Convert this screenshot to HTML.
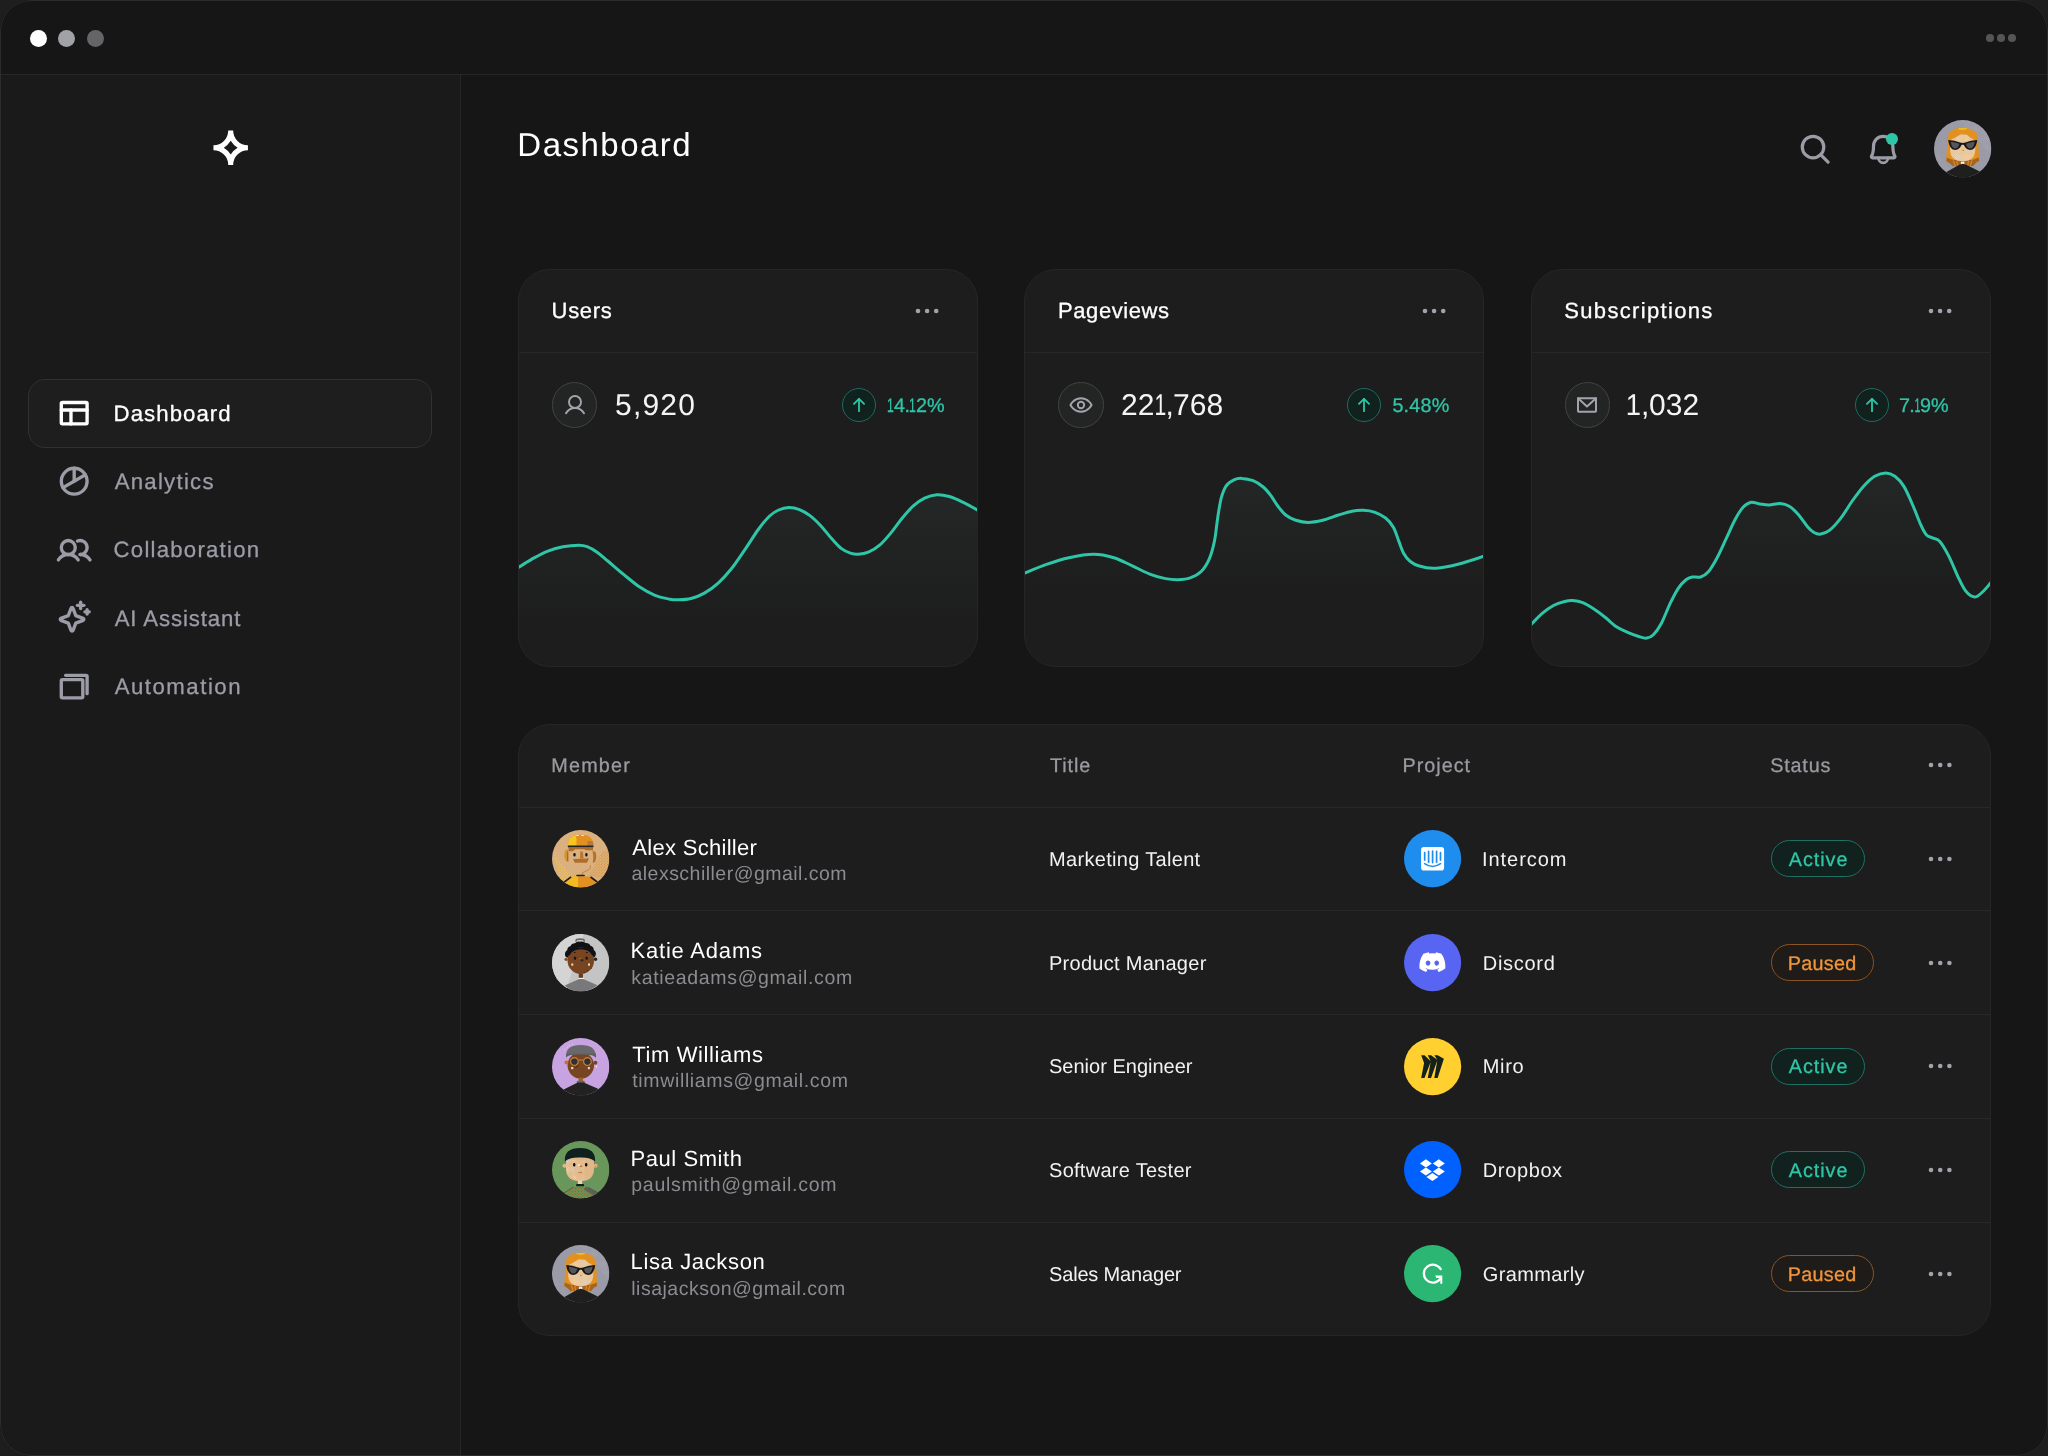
<!DOCTYPE html>
<html lang="en">
<head>
<meta charset="utf-8">
<title>Dashboard</title>
<style>
*{box-sizing:border-box;margin:0;padding:0}
html,body{width:2048px;height:1456px;overflow:hidden;background:#1e1e1e}
body{font-family:"Liberation Sans",sans-serif;color:#fff;position:relative;text-rendering:geometricPrecision}
.abs{position:absolute}
#win{position:absolute;left:0;top:0;width:2048px;height:1456px;border-radius:31px;background:#161616;overflow:hidden}
#win:after{content:'';position:absolute;left:0;top:0;right:0;bottom:0;border-radius:31px;border:1.500px solid #2b2d2c;pointer-events:none}
#tbar{position:absolute;left:0;top:0;width:2048px;height:75px;background:#161616;border-bottom:1px solid #262626}
#side{position:absolute;left:0;top:75px;width:460.500px;height:1381px;background:#1a1a1a;border-right:1px solid #262626}
.dot{position:absolute;border-radius:50%}
.t{position:absolute;white-space:nowrap;line-height:1;transform:translateZ(0)}
.o{display:inline-block}
.med{-webkit-text-stroke:0.35px currentColor}
.nav{color:#9c9ca6;font-size:23px}
.card{position:absolute;background:#1d1d1d;border:1px solid #262626;border-radius:32px;overflow:hidden}
.hr{position:absolute;height:1px;background:#262726}
.ctitle{font-size:23px;color:#fff}
.num{font-size:31px;color:#f2f2f2}
.pct{font-size:20px;color:#2fc6a8}
.th{font-size:20px;color:#9a9aa0}
.nm{font-size:23px;color:#fff}
.em{font-size:20px;color:#8b8b91}
.td{font-size:20px;color:#f0f0f0}
.badge{position:absolute;height:37px;border-radius:19px;border:1.500px solid}
.act{background:#10211e;border-color:#207063;color:#2fc6a8}
.pau{background:#1e1b18;border-color:#8a5424;color:#f0953a}
svg{position:absolute;overflow:visible}
</style>
</head>
<body>
<div id="win">
<div id="tbar">
  <div class="dot" style="left:29.600px;top:29.600px;width:17.400px;height:17.400px;background:#fff"></div>
  <div class="dot" style="left:58.100px;top:29.600px;width:17.400px;height:17.400px;background:#a1a1a8"></div>
  <div class="dot" style="left:86.600px;top:29.600px;width:17.400px;height:17.400px;background:#656567"></div>
  <div class="dot" style="left:1986.400px;top:34.400px;width:7.600px;height:7.600px;background:#555"></div>
  <div class="dot" style="left:1997.200px;top:34.400px;width:7.600px;height:7.600px;background:#555"></div>
  <div class="dot" style="left:2008px;top:34.400px;width:7.600px;height:7.600px;background:#555"></div>
</div>
<svg width="0" height="0" style="left:0;top:0">
<defs>
<pattern id="dY" width="2.2" height="2.2" patternUnits="userSpaceOnUse" patternTransform="rotate(45)"><rect width="1" height="1" fill="#ffd02a"/></pattern>
<pattern id="dO" width="2.2" height="2.2" patternUnits="userSpaceOnUse" patternTransform="rotate(45)"><rect width="1" height="1" fill="#e08a1c"/></pattern>
<pattern id="dW" width="1.6" height="1.6" patternUnits="userSpaceOnUse" patternTransform="rotate(45)"><rect width=".8" height=".8" fill="#e6e6e6"/></pattern>
<pattern id="dB" width="2.1" height="2.1" patternUnits="userSpaceOnUse" patternTransform="rotate(45)"><rect width="1" height="1" fill="#a4561a"/></pattern>
<pattern id="dL" width="1.6" height="1.6" patternUnits="userSpaceOnUse" patternTransform="rotate(45)"><rect width=".8" height=".8" fill="#b4b4bf"/></pattern>
<!-- Alex -->
<g id="avAlex">
  <rect width="58" height="58" fill="#d9b07e"/>
  <path d="M2,24 L20,47 L9,54 Z" fill="url(#dY)"/><path d="M37,46 L52,20 L58,22 L57,50 Z" fill="url(#dO)"/>
  <path d="M16.300,19.200 l-3,1.500 q-1.800,5 .600,10.500 l2.400,1.200z" fill="#d98f2e"/><path d="M15.200,22 l1.300,0 v10 l-1.300,-.600z" fill="#a8682a"/>
  <path d="M41,21 l3,1.200 q1.800,4.500 -.300,9.800 l-2.500,1.400 q1,-6 -.200,-12.400z" fill="#b5722d"/>
  <path d="M16.200,16 Q16,7.500 23,5.600 Q29,4.200 35.500,5.600 Q42,8 42,16 Z" fill="#e2901f"/>
  <path d="M16.200,16 Q16,7.500 23,5.600 L24.500,5.300 L24,16 Z" fill="#f8c71f"/>
  <path d="M24,7 l1.600,3 l-1,2 l1,2 l-1.600,2z" fill="#f8c71f" opacity=".6"/>
  <path d="M36,11.200 h4.800 q1.200,2.400 1.200,4.800 h-6.500z" fill="#b87a38"/>
  <rect x="24.500" y="5.200" width="2.600" height=".9" fill="#f3efe6"/><rect x="29.600" y="5.200" width="2.600" height=".9" fill="#f3efe6"/>
  <rect x="15.900" y="15.600" width="26.100" height="2" rx=".9" fill="#22262b"/>
  <path d="M16.800,17.600 h24.600 v2.800 l-7,0 l-2,-1 l-9,0 l-2.500,2.200 l-4.100,0z" fill="#ad6c2c"/>
  <rect x="21.600" y="23.200" width="2.300" height="3.700" rx="1.100" fill="#13131a"/><rect x="33.600" y="23.200" width="2.300" height="3.700" rx="1.100" fill="#13131a"/>
  <path d="M28.600,21.600 l2.600,.300 l.700,6.800 l-3.600,0 z" fill="#b9762f"/>
  <path d="M21.300,29.200 l14,-.300 l1.400,-1.200 l.200,2 l-1.600,3.500 h-12.300z" fill="#ae6e2d"/>
  <path d="M38.900,36 q.800,3 -2.500,4.500 l-5.800,2.800 v3" fill="none" stroke="#b5722d" stroke-width=".700"/>
  <rect x="24.500" y="45.200" width="8.700" height="1.800" rx=".8" fill="#1a2327"/>
  <path d="M20.200,47.100 h18.300 l7.500,6 q-7,5.400 -17,5.400 q-8.500,0 -15,-4.700 z" fill="#e2901f"/>
  <path d="M20.200,47.100 h6 l.300,11.200 q-6.500,-.600 -12.500,-4.500z" fill="#f6c321" opacity=".8"/>
  <path d="M12.300,52.600 l7,-5.300 M45.800,52.500 l-6.800,-5" stroke="#1d1d1d" stroke-width="1.700" fill="none"/>
</g>
<!-- Katie -->
<g id="avKatie">
  <rect width="58" height="58" fill="#c4c4c5"/>
  <path d="M0,0 h32 L14,58 H0z" fill="#d4d4d5"/>
  <ellipse cx="28.400" cy="6.700" rx="4.900" ry="2.300" fill="#66666a"/><ellipse cx="28.400" cy="7.500" rx="3.700" ry="1.400" fill="#cfcfcf"/>
  <path d="M13.200,21.500 q-.600,-3.500 2.200,-5 q-.200,-3.300 3.200,-4.200 q1.200,-3 4.600,-3 q2,-2 5.200,-1.500 q3.400,-.800 5.600,1.400 q3.600,-.300 4.800,2.800 q3.400,.700 3.400,4.200 q2.800,1.800 2,5.200 q-.800,2.600 -3.200,2.600 l-24.500,0 q-3,0 -3.300,-2.500z" fill="#101215"/>
  <circle cx="29.100" cy="27" r="13.400" fill="#774521"/>
  <path d="M15.600,22.500 q1.500,-8.500 13.500,-8.800 q12,.300 13.600,9 l-2.400,-1.500 q-2.700,-5.700 -11.200,-5.800 q-8,.100 -11,5.500z" fill="#101215"/>
  <circle cx="14.300" cy="25.600" r="1.700" fill="#8a4e22"/><circle cx="44" cy="25.500" r="1.700" fill="#22262b"/>
  <rect x="22.100" y="18.200" width="1.600" height="1" fill="#14181d"/><rect x="34.300" y="18.200" width="1.800" height="1" fill="#14181d"/>
  <rect x="22.200" y="23" width="2.100" height="3" rx=".5" fill="#14181d"/><rect x="34" y="23" width="2.100" height="3" rx=".5" fill="#14181d"/>
  <path d="M27.500,25.600 l1.200,-1.400 l1,1.200" stroke="#c07a2e" stroke-width=".700" fill="none"/>
  <rect x="28.800" y="25.600" width="3" height="2" rx=".9" fill="#1f2a30"/>
  <rect x="19.500" y="29.800" width="2" height="2.200" fill="#f1d9b8"/><rect x="36.400" y="29.800" width="2" height="2.200" fill="#f1d9b8"/>
  <circle cx="39.600" cy="34.600" r=".500" fill="#101215"/><circle cx="35.700" cy="36.600" r=".500" fill="#101215"/><circle cx="32.600" cy="38.600" r=".500" fill="#101215"/>
  <rect x="27" y="40" width="4.300" height="5" fill="#6a3d1c"/>
  <rect x="26.600" y="44.300" width="5.500" height="1.300" fill="#f2f2f2"/>
  <path d="M27.500,45.600 h4 L46,51.800 Q38,58.200 29,58.200 Q19,58.200 12.800,52 z" fill="#79797c"/>
</g>
<!-- Tim -->
<g id="avTim">
  <rect width="58" height="58" fill="#c8a3e1"/>
  <circle cx="29.100" cy="27.600" r="13.400" fill="#774521"/>
  <circle cx="14.600" cy="24.800" r="2" fill="#b9762f"/><circle cx="43.900" cy="25" r="2" fill="#774521"/><rect x="44.200" y="27.500" width="1.400" height="2.300" fill="#f0dcc0"/>
  <path d="M14.200,19.800 Q13.300,10.500 21,8 Q29,6 37,8 Q45.300,11 44.400,20 Q42.500,17.600 38.500,17.300 Q29,15.300 19.500,17.300 Q16,17.600 14.200,19.800z" fill="#69696b"/>
  <path d="M14.200,19.800 q2,-3 6,-3.200 l18,0 q4.500,.500 6.200,3.400 q.300,-2 -.200,-4 l-29.500,0 q-.700,1.800 -.500,3.800z" fill="#5c5c5f"/>
  <circle cx="21" cy="9.900" r=".550" fill="#4d63f0"/><circle cx="24" cy="11.900" r=".550" fill="#4d63f0"/><circle cx="28" cy="9.900" r=".550" fill="#4d63f0"/><circle cx="30" cy="9.900" r=".550" fill="#4d63f0"/><circle cx="33" cy="9.900" r=".550" fill="#4d63f0"/>
  <circle cx="12.700" cy="11.900" r=".500" fill="#eee"/><circle cx="15.700" cy="9.900" r=".500" fill="#eee"/><circle cx="17.700" cy="7.900" r=".500" fill="#eee"/><circle cx="20.700" cy="6.900" r=".500" fill="#eee"/>
  <path d="M21.0,20.1 L24.2,20.1 L26.3,22.2 L26.3,25.4 L24.2,27.5 L21.0,27.5 L18.9,25.4 L18.9,22.2z" fill="#2f3034" stroke="#cf8535" stroke-width="1.100"/>
  <path d="M34.2,20.1 L37.4,20.1 L39.5,22.2 L39.5,25.4 L37.4,27.5 L34.2,27.5 L32.1,25.4 L32.1,22.2z" fill="#2f3034" stroke="#cf8535" stroke-width="1.100"/>
  <path d="M26.800,22.300 h4.800" stroke="#cf8535" stroke-width="1"/>
  <path d="M26.500,27.500 l-2.600,2.600" stroke="#14181d" stroke-width=".800"/>
  <rect x="19.300" y="29.300" width="2.200" height="2.200" fill="#ecd6b6"/><rect x="36.200" y="29.300" width="2.200" height="2.200" fill="#d8d0c6"/>
  <rect x="26.900" y="40" width="4.400" height="4" fill="#a45f22"/>
  <rect x="25" y="43.300" width="8.200" height="2.600" rx="1" fill="#67676a"/>
  <path d="M26,45 h6 L46.500,51.300 L46,59 H12 L11.800,52 z" fill="#222223"/>
</g>
<!-- Paul -->
<g id="avPaul">
  <rect width="58" height="58" fill="#69975b"/>
  <circle cx="12.700" cy="25" r="2.100" fill="#e2b787"/><circle cx="44" cy="25" r="2.100" fill="#e2b787"/><path d="M43.500,24 q1.500,1 .500,2.600" stroke="#c0752c" stroke-width=".700" fill="none"/>
  <path d="M14.200,17 h28.200 v11.500 q0,12 -14,12 q-14.200,0 -14.200,-12z" fill="#e2b787"/>
  <path d="M14.200,19 h9 q-3,10 2,20 q-11,-2 -11,-11z" fill="url(#dW)"/>
  <path d="M23,19.500 h10 v20 h-10z" fill="url(#dW)" opacity=".45"/>
  <path d="M13,20.600 Q12,7 28.500,7 Q44.200,7 43.600,20.600 Q38,16.400 28.500,16.400 Q18,16.400 13,20.600z" fill="#0f211f"/>
  <rect x="21.300" y="22.300" width="2.300" height="3.500" rx="1.100" fill="#0c0c10"/><rect x="33.400" y="22.300" width="2.300" height="3.500" rx="1.100" fill="#0c0c10"/>
  <circle cx="27.200" cy="24.200" r="1.100" fill="#e3e3e6"/>
  <path d="M29.300,24.300 l1.700,2 h-3.200z" fill="#c0752c"/><rect x="26.600" y="31.400" width="3.800" height=".9" fill="#c0752c"/>
  <rect x="26.200" y="39.700" width="4.300" height="4.200" fill="#ecd2b0"/>
  <rect x="24.400" y="43.400" width="8" height="2.700" rx=".8" fill="#0f211f"/>
  <path d="M23,46.100 h11 L46,52 Q38,58.300 29,58.300 Q20,58.300 12.500,52.500z" fill="#69975b"/>
  <path d="M23,46.100 h11 L46,52 Q38,58.300 29,58.300 Q20,58.300 12.500,52.500z" fill="url(#dB)"/>
  <path d="M34,46.100 L46,52 l-4,3.200 l-9.500,-6z" fill="#5a5a5e" opacity=".85"/>
  <path d="M12,52.800 l9.500,-6.200 M46.500,52.300 l-10,-5.500" stroke="#3a3f3a" stroke-width=".600" fill="none"/>
</g>
<!-- Lisa -->
<g id="avLisa">
  <rect width="58" height="58" fill="#9b9ba7"/>
  <path d="M22,0 h36 v34 z" fill="url(#dL)" opacity=".55"/><path d="M0,28 L22,58 H0z" fill="url(#dL)" opacity=".35"/>
  <path d="M13.400,20 Q13.400,12 20,9.300 Q29,6.600 37.500,9.300 Q44.600,12 44.600,20 L45.600,41 L42.500,43 L39.500,46.500 H19 L15.500,43.500 L12.400,41.500 z" fill="#e2901f"/>
  <path d="M24.500,8.300 h9 l-1,1.300 h-3 l-.600,1 l-.800,-1 h-3z" fill="#f8c71f"/>
  <path d="M13,38 l3.500,1.500 l3,1 l19,0 l3,-1.200 l3.600,-1.300 l.500,3.500 l-3,1.500 l-3,3.500 h-20.600 l-3.500,-3 l-3.100,-2z" fill="#a5641f"/>
  <path d="M19.500,41 l2,5.500 M23,41 l1,5.500 M35,41 l-1,5.500 M38.500,41 l-2,5.500" stroke="#d98a2b" stroke-width="1.200"/>
  <path d="M16.300,24 Q16,19.500 20.200,18.500 L27.100,14.500 L33.400,15 L36.800,18 Q41.700,19.500 41.700,24 V30 q0,11.500 -12.700,11.500 q-12.700,0 -12.700,-11.500z" fill="#e9c495"/>
  <path d="M22,18 l5.500,-3 l5.500,.500 l3,2.500 l-2,3 h-10z" fill="url(#dW)" opacity=".6"/>
  <path d="M17,30 h24 v1 q-1,10.500 -12,10.500 q-11,0 -12,-10.500z" fill="url(#dW)" opacity=".65"/>
  <path d="M14.400,20.100 Q21,20.300 26.300,22.800 Q29,23.800 31.700,22.800 Q37,20.300 43.700,20.100 Q43,27 39,29.800 Q34.300,31.400 31.700,27.800 L30,24.900 H28 L26.300,27.800 Q23.700,31.400 19,29.800 Q15,27 14.400,20.100z" fill="#15171a"/>
  <path d="M16.900,21.900 Q21.500,22.200 25.600,24 Q24.800,29.200 20.400,28.800 Q17.600,27.300 16.900,21.900z M41.100,21.900 Q36.500,22.200 32.400,24 Q33.200,29.200 37.600,28.800 Q40.400,27.300 41.100,21.900z" fill="#55565a"/>
  <rect x="28.400" y="30.200" width="2" height="1" fill="#d98a2b"/>
  <rect x="27.200" y="42" width="3.500" height="3.200" fill="#f0f0f0"/>
  <path d="M25.500,45.300 l3.500,-1 l3.500,1 L46.300,52 L46,59 H12 L12.600,52.500 z" fill="#1f1f20"/>
</g>
</defs>
</svg>
<div id="side"></div>
<svg style="left:210.900px;top:127.700px" width="39.400" height="39.400" viewBox="-20 -20 40 40"><path fill="#fff" fill-rule="evenodd" d="M-2.500,-17.500 H2.500 A15,15 0 0 0 17.500,-2.500 V2.500 A15,15 0 0 0 2.500,17.500 H-2.500 A15,15 0 0 0 -17.500,2.500 V-2.500 A15,15 0 0 0 -2.500,-17.500 Z M0,-7 A20.400,20.400 0 0 1 -7,0 A20.400,20.400 0 0 1 0,7 A20.400,20.400 0 0 1 7,0 A20.400,20.400 0 0 1 0,-7 Z"/></svg>
<div class="abs" style="left:28.400px;top:379.300px;width:403.200px;height:68.400px;border-radius:17px;background:#1e1e1e;border:1.500px solid #313131"></div>
<svg style="left:56.7px;top:396.1px" width="34.4" height="34.4" viewBox="0 0 256 256" fill="none" stroke="#fff" stroke-width="25" stroke-linecap="round" stroke-linejoin="round"><rect x="32" y="48" width="192" height="160" rx="8"/><line x1="104" y1="104" x2="104" y2="208"/><line x1="32" y1="104" x2="224" y2="104"/></svg>
<svg style="left:56.7px;top:464.4px" width="34.4" height="34.4" viewBox="0 0 256 256" fill="none" stroke="#9c9ca6" stroke-width="25" stroke-linecap="round" stroke-linejoin="round"><circle cx="128" cy="128" r="96"/><line x1="128" y1="128" x2="128" y2="32"/><line x1="211.140" y1="80" x2="44.860" y2="176"/></svg>
<svg style="left:56.7px;top:532.7px" width="34.4" height="34.4" viewBox="0 0 256 256" fill="none" stroke="#9c9ca6" stroke-width="25" stroke-linecap="round" stroke-linejoin="round"><circle cx="84" cy="108" r="52"/><path d="M10.230,200a88,88,0,0,1,147.540,0"/><path d="M172,160a87.930,87.930,0,0,1,73.770,40"/><path d="M152.690,59.700A52,52,0,1,1,172,160"/></svg>
<svg style="left:56.7px;top:600.1px" width="34.4" height="34.4" viewBox="0 0 256 256" fill="none" stroke="#9c9ca6" stroke-width="25" stroke-linecap="round" stroke-linejoin="round"><path d="M84.270,171.730l-55.090-20.300a7.920,7.920,0,0,1,0-14.860l55.090-20.300,20.300-55.090a7.920,7.920,0,0,1,14.860,0l20.300,55.090,55.090,20.300a7.920,7.920,0,0,1,0,14.860l-55.090,20.300-20.300,55.090a7.920,7.920,0,0,1-14.860,0Z"/><line x1="176" y1="16" x2="176" y2="64"/><line x1="200" y1="40" x2="152" y2="40"/><line x1="224" y1="72" x2="224" y2="104"/><line x1="240" y1="88" x2="208" y2="88"/></svg>
<svg style="left:56.7px;top:670.3px" width="34.4" height="34.4" viewBox="0 0 256 256" fill="none" stroke="#9c9ca6" stroke-width="25" stroke-linecap="round" stroke-linejoin="round"><rect x="32" y="72" width="160" height="136" rx="8"/><path d="M64,40H216a8,8,0,0,1,8,8V176"/></svg>
<div class="t" style="left:113.6px;top:403.0px;font-size:22.2px;color:#fff;letter-spacing:1.062px;-webkit-text-stroke:0.3px #fff">Dashboard</div>
<div class="t" style="left:114.65px;top:471.0px;font-size:22.2px;color:#9c9ca6;letter-spacing:1.265px;-webkit-text-stroke:0.3px #9c9ca6">Analytics</div>
<div class="t" style="left:113.6px;top:539.0px;font-size:22.2px;color:#9c9ca6;letter-spacing:1.225px;-webkit-text-stroke:0.3px #9c9ca6">Collaboration</div>
<div class="t" style="left:114.65px;top:608.0px;font-size:22.2px;color:#9c9ca6;letter-spacing:0.895px;-webkit-text-stroke:0.3px #9c9ca6">AI Assistant</div>
<div class="t" style="left:114.65px;top:676.0px;font-size:22.2px;color:#9c9ca6;letter-spacing:1.518px;-webkit-text-stroke:0.3px #9c9ca6">Automation</div>
<div class="t" style="left:517.3px;top:128.0px;font-size:33.0px;color:#fff;letter-spacing:1.497px">Dashboard</div>
<svg style="left:1797.5px;top:132.3px" width="34.4" height="34.4" viewBox="0 0 256 256" fill="none" stroke="#9c9ca6" stroke-width="24" stroke-linecap="round" stroke-linejoin="round"><circle cx="112" cy="112" r="80"/><line x1="168.570" y1="168.570" x2="224" y2="224"/></svg>
<svg style="left:1866.1px;top:132.1px" width="34.4" height="34.4" viewBox="0 0 256 256" fill="none" stroke="#9c9ca6" stroke-width="24" stroke-linecap="round" stroke-linejoin="round"><path d="M92,192a36,38,0,0,0,72,0" stroke-width="20"/><path d="M56,104a72,72,0,0,1,144,0c0,35.820,8.300,64.600,14.900,76A8,8,0,0,1,208,192H48a8,8,0,0,1-6.880-12C47.710,168.600,56,139.810,56,104Z"/></svg>
<div class="dot" style="left:1885.500px;top:133px;width:12px;height:12px;background:#2fc6a8"></div>
<svg style="left:1933.900px;top:120px" width="57.400" height="57.400" viewBox="0 0 58 58"><defs><clipPath id="cpH"><circle cx="29" cy="29" r="29"/></clipPath></defs><g clip-path="url(#cpH)"><use href="#avLisa"/></g></svg>
<div class="card" style="left:518px;top:269px;width:460px;height:397.500px">
<svg style="left:-519px;top:-270px" width="2048" height="700" viewBox="0 0 2048 700"><defs><linearGradient id="cg0" gradientUnits="userSpaceOnUse" x1="0" y1="495" x2="0" y2="620"><stop offset="0" stop-color="#9fe5d6" stop-opacity=".05"/><stop offset=".5" stop-color="#9fe5d6" stop-opacity=".025"/><stop offset="1" stop-color="#9fe5d6" stop-opacity="0"/></linearGradient></defs><path d="M514.0,570.2C514.7,569.8 515.1,569.5 518.0,567.7C520.9,565.9 526.6,562.1 531.5,559.4C536.4,556.7 542.0,553.4 547.2,551.3C552.4,549.2 557.7,547.8 562.9,546.8C568.1,545.8 574.5,545.2 578.6,545.2C582.7,545.2 584.1,545.4 587.2,546.6C590.3,547.8 593.7,549.8 597.1,552.2C600.5,554.6 603.4,557.3 607.8,561.0C612.2,564.7 618.4,570.1 623.6,574.4C628.9,578.7 634.1,583.3 639.3,586.8C644.5,590.3 650.1,593.3 655.0,595.3C659.9,597.3 664.6,598.1 668.5,598.9C672.4,599.6 674.9,599.9 678.6,599.8C682.4,599.7 686.7,599.6 691.0,598.5C695.3,597.4 699.9,595.6 704.4,593.1C708.9,590.6 713.4,587.5 717.9,583.4C722.4,579.3 726.9,574.4 731.4,568.8C735.9,563.2 740.4,556.2 744.9,549.7C749.4,543.2 754.2,535.1 758.3,529.5C762.4,523.9 766.2,519.2 769.6,516.0C773.0,512.8 775.4,511.4 778.6,510.0C781.8,508.6 785.3,507.6 788.7,507.5C792.1,507.4 795.2,507.9 798.8,509.3C802.3,510.7 806.3,512.8 810.0,515.6C813.7,518.4 817.5,522.2 821.2,526.2C825.0,530.2 829.1,535.9 832.5,539.6C835.9,543.3 838.5,546.4 841.5,548.6C844.5,550.9 847.6,552.2 850.4,553.1C853.2,554.0 855.3,554.4 858.3,554.2C861.3,554.1 864.8,553.7 868.4,552.2C872.0,550.7 875.9,548.4 879.6,545.2C883.4,542.0 887.1,537.4 890.9,532.9C894.6,528.4 898.4,522.8 902.1,518.3C905.8,513.8 909.5,509.3 913.3,505.9C917.0,502.5 920.7,500.0 924.6,498.1C928.5,496.2 932.8,495.0 936.9,494.7C941.0,494.4 945.0,495.3 949.3,496.5C953.6,497.7 957.9,499.8 962.7,502.1C967.5,504.4 974.8,508.6 978.0,510.4C981.2,512.1 981.3,512.2 982.0,512.6 V680 H508 Z" fill="url(#cg0)"/><path d="M514.0,570.2C514.7,569.8 515.1,569.5 518.0,567.7C520.9,565.9 526.6,562.1 531.5,559.4C536.4,556.7 542.0,553.4 547.2,551.3C552.4,549.2 557.7,547.8 562.9,546.8C568.1,545.8 574.5,545.2 578.6,545.2C582.7,545.2 584.1,545.4 587.2,546.6C590.3,547.8 593.7,549.8 597.1,552.2C600.5,554.6 603.4,557.3 607.8,561.0C612.2,564.7 618.4,570.1 623.6,574.4C628.9,578.7 634.1,583.3 639.3,586.8C644.5,590.3 650.1,593.3 655.0,595.3C659.9,597.3 664.6,598.1 668.5,598.9C672.4,599.6 674.9,599.9 678.6,599.8C682.4,599.7 686.7,599.6 691.0,598.5C695.3,597.4 699.9,595.6 704.4,593.1C708.9,590.6 713.4,587.5 717.9,583.4C722.4,579.3 726.9,574.4 731.4,568.8C735.9,563.2 740.4,556.2 744.9,549.7C749.4,543.2 754.2,535.1 758.3,529.5C762.4,523.9 766.2,519.2 769.6,516.0C773.0,512.8 775.4,511.4 778.6,510.0C781.8,508.6 785.3,507.6 788.7,507.5C792.1,507.4 795.2,507.9 798.8,509.3C802.3,510.7 806.3,512.8 810.0,515.6C813.7,518.4 817.5,522.2 821.2,526.2C825.0,530.2 829.1,535.9 832.5,539.6C835.9,543.3 838.5,546.4 841.5,548.6C844.5,550.9 847.6,552.2 850.4,553.1C853.2,554.0 855.3,554.4 858.3,554.2C861.3,554.1 864.8,553.7 868.4,552.2C872.0,550.7 875.9,548.4 879.6,545.2C883.4,542.0 887.1,537.4 890.9,532.9C894.6,528.4 898.4,522.8 902.1,518.3C905.8,513.8 909.5,509.3 913.3,505.9C917.0,502.5 920.7,500.0 924.6,498.1C928.5,496.2 932.8,495.0 936.9,494.7C941.0,494.4 945.0,495.3 949.3,496.5C953.6,497.7 957.9,499.8 962.7,502.1C967.5,504.4 974.8,508.6 978.0,510.4C981.2,512.1 981.3,512.2 982.0,512.6" fill="none" stroke="#2fc6a8" stroke-width="3" stroke-linecap="round" stroke-linejoin="round"/></svg>
<div class="hr" style="left:0;top:82px;width:460px"></div>
</div>
<svg style="left:914.1px;top:307.3px" width="26.2" height="8" fill="#a3a3ab"><circle cx="4" cy="4" r="2.3"/><circle cx="13.1" cy="4" r="2.3"/><circle cx="22.2" cy="4" r="2.3"/></svg>
<div class="dot" style="left:551.9px;top:382.300px;width:45.400px;height:45.400px;background:#232524;border:1.500px solid #424242"></div>
<svg style="left:562.6px;top:393px" width="24" height="24" viewBox="0 0 256 256" fill="none" stroke="#a3a3ab" stroke-width="21" stroke-linecap="round" stroke-linejoin="round"><circle cx="128" cy="96" r="64"/><path d="M32,216c19.370-33.470,54.550-56,96-56s76.630,22.530,96,56"/></svg>
<div class="dot" style="left:842.0px;top:388px;width:34px;height:34px;background:#10211e;border:1.500px solid #1f6a5d"></div>
<svg style="left:850px;top:396.2px" width="18" height="18" viewBox="0 0 256 256" fill="none" stroke="#2fc6a8" stroke-width="26" stroke-linecap="round" stroke-linejoin="round"><line x1="128" y1="216" x2="128" y2="40"/><polyline points="56 112 128 40 200 112"/></svg>
<div class="card" style="left:1024px;top:269px;width:460px;height:397.500px">
<svg style="left:-1025px;top:-270px" width="2048" height="700" viewBox="0 0 2048 700"><defs><linearGradient id="cg1" gradientUnits="userSpaceOnUse" x1="0" y1="478" x2="0" y2="590"><stop offset="0" stop-color="#9fe5d6" stop-opacity=".05"/><stop offset=".5" stop-color="#9fe5d6" stop-opacity=".025"/><stop offset="1" stop-color="#9fe5d6" stop-opacity="0"/></linearGradient></defs><path d="M1020.0,575.0C1020.7,574.7 1019.6,575.2 1024.0,573.4C1028.4,571.6 1039.0,567.0 1046.5,564.4C1054.0,561.8 1061.1,559.4 1068.9,557.7C1076.8,556.0 1086.1,554.3 1093.6,554.3C1101.1,554.3 1107.4,555.8 1113.8,557.7C1120.2,559.6 1125.8,562.9 1131.8,565.6C1137.8,568.3 1144.2,571.9 1149.8,574.1C1155.4,576.3 1160.8,577.7 1165.5,578.6C1170.2,579.5 1173.8,579.8 1177.9,579.7C1182.0,579.6 1186.3,579.3 1190.2,577.9C1194.1,576.5 1198.2,574.4 1201.4,571.2C1204.6,568.0 1207.1,563.8 1209.3,558.8C1211.5,553.8 1213.1,547.6 1214.5,540.9C1215.9,534.2 1216.5,525.5 1217.6,518.4C1218.7,511.3 1219.8,503.6 1221.2,498.2C1222.6,492.8 1224.1,488.9 1226.2,485.8C1228.3,482.7 1231.4,481.0 1234.0,479.8C1236.6,478.6 1238.7,478.2 1241.9,478.4C1245.1,478.5 1249.5,479.3 1253.1,480.7C1256.6,482.1 1260.2,484.5 1263.2,487.0C1266.2,489.5 1268.7,492.7 1271.1,495.9C1273.5,499.1 1275.4,502.8 1277.8,506.0C1280.2,509.2 1282.7,512.6 1285.7,515.0C1288.7,517.4 1292.1,519.0 1295.8,520.2C1299.5,521.4 1303.6,522.4 1308.1,522.4C1312.6,522.4 1317.6,521.4 1322.7,520.2C1327.8,519.0 1333.6,516.5 1338.5,515.0C1343.4,513.5 1347.8,512.0 1351.9,511.2C1356.0,510.4 1359.5,510.1 1363.2,510.3C1367.0,510.5 1370.7,510.8 1374.4,512.1C1378.1,513.4 1382.4,515.5 1385.6,518.0C1388.8,520.5 1391.3,523.6 1393.5,527.4C1395.7,531.2 1397.0,536.6 1398.7,540.9C1400.4,545.2 1401.7,549.8 1403.6,553.2C1405.5,556.6 1407.7,559.4 1410.3,561.5C1412.9,563.6 1415.5,564.9 1419.3,566.0C1423.0,567.1 1427.5,568.3 1432.8,568.3C1438.0,568.3 1444.8,567.2 1450.8,566.0C1456.8,564.8 1463.2,562.8 1468.7,561.1C1474.2,559.5 1480.8,557.2 1484.0,556.1C1487.2,555.0 1487.3,555.0 1488.0,554.8 V680 H1014 Z" fill="url(#cg1)"/><path d="M1020.0,575.0C1020.7,574.7 1019.6,575.2 1024.0,573.4C1028.4,571.6 1039.0,567.0 1046.5,564.4C1054.0,561.8 1061.1,559.4 1068.9,557.7C1076.8,556.0 1086.1,554.3 1093.6,554.3C1101.1,554.3 1107.4,555.8 1113.8,557.7C1120.2,559.6 1125.8,562.9 1131.8,565.6C1137.8,568.3 1144.2,571.9 1149.8,574.1C1155.4,576.3 1160.8,577.7 1165.5,578.6C1170.2,579.5 1173.8,579.8 1177.9,579.7C1182.0,579.6 1186.3,579.3 1190.2,577.9C1194.1,576.5 1198.2,574.4 1201.4,571.2C1204.6,568.0 1207.1,563.8 1209.3,558.8C1211.5,553.8 1213.1,547.6 1214.5,540.9C1215.9,534.2 1216.5,525.5 1217.6,518.4C1218.7,511.3 1219.8,503.6 1221.2,498.2C1222.6,492.8 1224.1,488.9 1226.2,485.8C1228.3,482.7 1231.4,481.0 1234.0,479.8C1236.6,478.6 1238.7,478.2 1241.9,478.4C1245.1,478.5 1249.5,479.3 1253.1,480.7C1256.6,482.1 1260.2,484.5 1263.2,487.0C1266.2,489.5 1268.7,492.7 1271.1,495.9C1273.5,499.1 1275.4,502.8 1277.8,506.0C1280.2,509.2 1282.7,512.6 1285.7,515.0C1288.7,517.4 1292.1,519.0 1295.8,520.2C1299.5,521.4 1303.6,522.4 1308.1,522.4C1312.6,522.4 1317.6,521.4 1322.7,520.2C1327.8,519.0 1333.6,516.5 1338.5,515.0C1343.4,513.5 1347.8,512.0 1351.9,511.2C1356.0,510.4 1359.5,510.1 1363.2,510.3C1367.0,510.5 1370.7,510.8 1374.4,512.1C1378.1,513.4 1382.4,515.5 1385.6,518.0C1388.8,520.5 1391.3,523.6 1393.5,527.4C1395.7,531.2 1397.0,536.6 1398.7,540.9C1400.4,545.2 1401.7,549.8 1403.6,553.2C1405.5,556.6 1407.7,559.4 1410.3,561.5C1412.9,563.6 1415.5,564.9 1419.3,566.0C1423.0,567.1 1427.5,568.3 1432.8,568.3C1438.0,568.3 1444.8,567.2 1450.8,566.0C1456.8,564.8 1463.2,562.8 1468.7,561.1C1474.2,559.5 1480.8,557.2 1484.0,556.1C1487.2,555.0 1487.3,555.0 1488.0,554.8" fill="none" stroke="#2fc6a8" stroke-width="3" stroke-linecap="round" stroke-linejoin="round"/></svg>
<div class="hr" style="left:0;top:82px;width:460px"></div>
</div>
<svg style="left:1420.5px;top:307.3px" width="26.2" height="8" fill="#a3a3ab"><circle cx="4" cy="4" r="2.3"/><circle cx="13.1" cy="4" r="2.3"/><circle cx="22.2" cy="4" r="2.3"/></svg>
<div class="dot" style="left:1058.2px;top:382.300px;width:45.400px;height:45.400px;background:#232524;border:1.500px solid #424242"></div>
<svg style="left:1068.9px;top:393px" width="24" height="24" viewBox="0 0 256 256" fill="none" stroke="#a3a3ab" stroke-width="21" stroke-linecap="round" stroke-linejoin="round"><path d="M128,56C48,56,16,128,16,128s32,72,112,72,112-72,112-72S208,56,128,56Z"/><circle cx="128" cy="128" r="34"/></svg>
<div class="dot" style="left:1346.9px;top:388px;width:34px;height:34px;background:#10211e;border:1.500px solid #1f6a5d"></div>
<svg style="left:1354.9px;top:396.2px" width="18" height="18" viewBox="0 0 256 256" fill="none" stroke="#2fc6a8" stroke-width="26" stroke-linecap="round" stroke-linejoin="round"><line x1="128" y1="216" x2="128" y2="40"/><polyline points="56 112 128 40 200 112"/></svg>
<div class="card" style="left:1531px;top:269px;width:460px;height:397.500px">
<svg style="left:-1532px;top:-270px" width="2048" height="700" viewBox="0 0 2048 700"><defs><linearGradient id="cg2" gradientUnits="userSpaceOnUse" x1="0" y1="473" x2="0" y2="588"><stop offset="0" stop-color="#9fe5d6" stop-opacity=".05"/><stop offset=".5" stop-color="#9fe5d6" stop-opacity=".025"/><stop offset="1" stop-color="#9fe5d6" stop-opacity="0"/></linearGradient></defs><path d="M1527.0,628.6C1527.7,627.9 1528.5,627.1 1531.0,624.6C1533.5,622.1 1538.5,616.6 1542.2,613.4C1546.0,610.2 1549.8,607.5 1553.5,605.5C1557.2,603.5 1561.5,602.3 1564.7,601.5C1567.9,600.7 1569.6,600.4 1572.6,600.6C1575.6,600.8 1579.2,601.2 1582.7,602.6C1586.2,604.0 1590.2,606.5 1593.9,608.9C1597.6,611.3 1601.3,614.2 1605.1,617.2C1608.8,620.2 1612.7,624.3 1616.4,626.8C1620.2,629.3 1623.9,630.8 1627.6,632.4C1631.3,634.0 1635.6,635.5 1638.8,636.5C1642.0,637.5 1644.3,638.4 1646.7,638.1C1649.1,637.8 1651.0,637.1 1653.4,634.7C1655.8,632.3 1658.5,628.8 1661.3,623.5C1664.1,618.2 1667.5,609.0 1670.3,603.2C1673.1,597.4 1675.5,592.5 1678.1,588.6C1680.7,584.7 1683.6,581.6 1686.0,579.7C1688.4,577.8 1690.3,577.5 1692.7,577.0C1695.1,576.5 1698.0,577.9 1700.6,577.0C1703.2,576.1 1705.6,575.1 1708.4,571.8C1711.2,568.5 1714.4,562.8 1717.4,557.2C1720.4,551.6 1723.4,544.5 1726.4,538.1C1729.4,531.7 1732.6,524.2 1735.4,519.0C1738.2,513.8 1740.7,509.9 1743.3,507.1C1745.9,504.3 1748.3,502.7 1751.1,502.2C1753.9,501.7 1757.1,503.6 1760.1,504.0C1763.1,504.4 1765.7,505.0 1769.1,504.9C1772.5,504.8 1776.9,503.3 1780.3,503.5C1783.7,503.7 1786.3,504.4 1789.3,506.2C1792.3,508.0 1795.3,511.1 1798.3,514.5C1801.3,517.9 1804.7,523.4 1807.3,526.4C1809.9,529.4 1811.8,531.2 1814.0,532.5C1816.2,533.8 1818.2,534.5 1820.8,534.1C1823.4,533.7 1826.3,532.9 1829.7,530.2C1833.1,527.5 1837.2,522.8 1841.0,517.9C1844.8,513.0 1848.5,506.2 1852.2,501.0C1855.9,495.8 1859.7,490.5 1863.4,486.4C1867.2,482.3 1871.0,478.5 1874.7,476.3C1878.5,474.1 1882.5,473.0 1885.9,473.0C1889.3,473.0 1891.9,474.1 1894.9,476.3C1897.9,478.5 1900.9,481.5 1903.9,486.4C1906.9,491.3 1910.1,499.1 1912.9,505.5C1915.7,511.9 1918.5,519.7 1920.7,524.6C1922.9,529.5 1924.2,532.5 1926.3,534.7C1928.4,537.0 1930.8,537.0 1933.1,538.1C1935.3,539.2 1937.2,538.5 1939.8,541.5C1942.4,544.5 1945.8,550.3 1948.8,556.1C1951.8,561.9 1955.0,570.5 1957.8,576.3C1960.6,582.1 1962.8,587.4 1965.6,590.9C1968.4,594.4 1971.8,596.8 1974.6,597.0C1977.4,597.2 1979.8,594.4 1982.5,592.0C1985.2,589.6 1988.9,584.9 1991.0,582.6C1993.1,580.3 1994.3,578.9 1995.0,578.2 V680 H1521 Z" fill="url(#cg2)"/><path d="M1527.0,628.6C1527.7,627.9 1528.5,627.1 1531.0,624.6C1533.5,622.1 1538.5,616.6 1542.2,613.4C1546.0,610.2 1549.8,607.5 1553.5,605.5C1557.2,603.5 1561.5,602.3 1564.7,601.5C1567.9,600.7 1569.6,600.4 1572.6,600.6C1575.6,600.8 1579.2,601.2 1582.7,602.6C1586.2,604.0 1590.2,606.5 1593.9,608.9C1597.6,611.3 1601.3,614.2 1605.1,617.2C1608.8,620.2 1612.7,624.3 1616.4,626.8C1620.2,629.3 1623.9,630.8 1627.6,632.4C1631.3,634.0 1635.6,635.5 1638.8,636.5C1642.0,637.5 1644.3,638.4 1646.7,638.1C1649.1,637.8 1651.0,637.1 1653.4,634.7C1655.8,632.3 1658.5,628.8 1661.3,623.5C1664.1,618.2 1667.5,609.0 1670.3,603.2C1673.1,597.4 1675.5,592.5 1678.1,588.6C1680.7,584.7 1683.6,581.6 1686.0,579.7C1688.4,577.8 1690.3,577.5 1692.7,577.0C1695.1,576.5 1698.0,577.9 1700.6,577.0C1703.2,576.1 1705.6,575.1 1708.4,571.8C1711.2,568.5 1714.4,562.8 1717.4,557.2C1720.4,551.6 1723.4,544.5 1726.4,538.1C1729.4,531.7 1732.6,524.2 1735.4,519.0C1738.2,513.8 1740.7,509.9 1743.3,507.1C1745.9,504.3 1748.3,502.7 1751.1,502.2C1753.9,501.7 1757.1,503.6 1760.1,504.0C1763.1,504.4 1765.7,505.0 1769.1,504.9C1772.5,504.8 1776.9,503.3 1780.3,503.5C1783.7,503.7 1786.3,504.4 1789.3,506.2C1792.3,508.0 1795.3,511.1 1798.3,514.5C1801.3,517.9 1804.7,523.4 1807.3,526.4C1809.9,529.4 1811.8,531.2 1814.0,532.5C1816.2,533.8 1818.2,534.5 1820.8,534.1C1823.4,533.7 1826.3,532.9 1829.7,530.2C1833.1,527.5 1837.2,522.8 1841.0,517.9C1844.8,513.0 1848.5,506.2 1852.2,501.0C1855.9,495.8 1859.7,490.5 1863.4,486.4C1867.2,482.3 1871.0,478.5 1874.7,476.3C1878.5,474.1 1882.5,473.0 1885.9,473.0C1889.3,473.0 1891.9,474.1 1894.9,476.3C1897.9,478.5 1900.9,481.5 1903.9,486.4C1906.9,491.3 1910.1,499.1 1912.9,505.5C1915.7,511.9 1918.5,519.7 1920.7,524.6C1922.9,529.5 1924.2,532.5 1926.3,534.7C1928.4,537.0 1930.8,537.0 1933.1,538.1C1935.3,539.2 1937.2,538.5 1939.8,541.5C1942.4,544.5 1945.8,550.3 1948.8,556.1C1951.8,561.9 1955.0,570.5 1957.8,576.3C1960.6,582.1 1962.8,587.4 1965.6,590.9C1968.4,594.4 1971.8,596.8 1974.6,597.0C1977.4,597.2 1979.8,594.4 1982.5,592.0C1985.2,589.6 1988.9,584.9 1991.0,582.6C1993.1,580.3 1994.3,578.9 1995.0,578.2" fill="none" stroke="#2fc6a8" stroke-width="3" stroke-linecap="round" stroke-linejoin="round"/></svg>
<div class="hr" style="left:0;top:82px;width:460px"></div>
</div>
<svg style="left:1926.7px;top:307.3px" width="26.2" height="8" fill="#a3a3ab"><circle cx="4" cy="4" r="2.3"/><circle cx="13.1" cy="4" r="2.3"/><circle cx="22.2" cy="4" r="2.3"/></svg>
<div class="dot" style="left:1564.5px;top:382.300px;width:45.400px;height:45.400px;background:#232524;border:1.500px solid #424242"></div>
<svg style="left:1575.2px;top:393px" width="24" height="24" viewBox="0 0 256 256" fill="none" stroke="#a3a3ab" stroke-width="21" stroke-linecap="round" stroke-linejoin="round"><path d="M32,56H224V192a8,8,0,0,1-8,8H40a8,8,0,0,1-8-8Z"/><polyline points="224 56 128 144 32 56"/></svg>
<div class="dot" style="left:1854.6px;top:388px;width:34px;height:34px;background:#10211e;border:1.500px solid #1f6a5d"></div>
<svg style="left:1862.6px;top:396.2px" width="18" height="18" viewBox="0 0 256 256" fill="none" stroke="#2fc6a8" stroke-width="26" stroke-linecap="round" stroke-linejoin="round"><line x1="128" y1="216" x2="128" y2="40"/><polyline points="56 112 128 40 200 112"/></svg>
<div class="t" style="left:551.6px;top:300.0px;font-size:22.0px;color:#fff;letter-spacing:0.65px;-webkit-text-stroke:0.3px #fff">Users</div>
<div class="t" style="left:1058.1px;top:300.0px;font-size:22.0px;color:#fff;letter-spacing:0.55px;-webkit-text-stroke:0.3px #fff">Pageviews</div>
<div class="t" style="left:1564.29px;top:300.0px;font-size:22.0px;color:#fff;letter-spacing:1.334px;-webkit-text-stroke:0.3px #fff">Subscriptions</div>
<div class="t" style="left:615.1px;top:391.0px;font-size:30.0px;color:#f4f4f4;letter-spacing:1.175px">5,920</div>
<div class="t" style="left:1121.0px;top:391.0px;font-size:30.0px;color:#f4f4f4">22<span class="o" style="margin:0 -2.46px;transform:scaleX(0.705)">1</span><span style="margin:0 -0.74px">,</span>768</div>
<div class="t" style="left:1625.93px;top:391.0px;font-size:30.0px;color:#f4f4f4"><span class="o" style="margin:0 -0.74px;transform:scaleX(0.911)">1</span><span style="margin:0 -0.22px">,</span>032</div>
<div class="t" style="left:887.22px;top:397.0px;font-size:19.8px;color:#2fc6a8;-webkit-text-stroke:0.3px #2fc6a8"><span class="o" style="margin:0 -2.11px;transform:scaleX(0.616)">1</span>4<span style="margin:0 -0.63px">.</span><span class="o" style="margin:0 -2.11px;transform:scaleX(0.616)">1</span>2%</div>
<div class="t" style="left:1392.39px;top:397.0px;font-size:19.8px;color:#2fc6a8;letter-spacing:0.227px;-webkit-text-stroke:0.3px #2fc6a8">5.48%</div>
<div class="t" style="left:1899.08px;top:397.0px;font-size:19.8px;color:#2fc6a8;-webkit-text-stroke:0.3px #2fc6a8">7<span style="margin:0 -0.77px">.</span><span class="o" style="margin:0 -2.55px;transform:scaleX(0.536)">1</span>9%</div>
<div class="card" style="left:518px;top:724px;width:1473px;height:612px"></div>
<svg style="left:1926.9px;top:761.2px" width="26.4" height="8" fill="#a3a3ab"><circle cx="4" cy="4" r="2.3"/><circle cx="13.2" cy="4" r="2.3"/><circle cx="22.4" cy="4" r="2.3"/></svg>
<div class="hr" style="left:518.500px;top:806.5px;width:1472px"></div>
<div class="hr" style="left:518.500px;top:909.9px;width:1472px"></div>
<div class="hr" style="left:518.500px;top:1013.7px;width:1472px"></div>
<div class="hr" style="left:518.500px;top:1117.7px;width:1472px"></div>
<div class="hr" style="left:518.500px;top:1221.6px;width:1472px"></div>
<svg style="left:551.700px;top:830.3px" width="57.400" height="57.400" viewBox="0 0 58 58"><defs><clipPath id="cpavAlex"><circle cx="29" cy="29" r="29"/></clipPath></defs><g clip-path="url(#cpavAlex)"><use href="#avAlex"/></g></svg>
<svg style="left:1403.7px;top:830.4px" width="57.200" height="57.200" viewBox="-28.600 -28.600 57.200 57.200"><circle r="28.600" fill="#1f8ded"/><rect x="-11.500" y="-11.500" width="23" height="23.500" rx="2.800" fill="#fff"/><g stroke="#1f8ded" stroke-width="1.700" stroke-linecap="round" fill="none"><path d="M-7.900,-6 V1.500 M-4,-7.300 V3.600 M0,-7.600 V4 M4,-7.300 V3.600 M7.900,-6 V1.500"/><path d="M-8,5 Q0,10.600 8,5" stroke-width="1.500"/></g></svg>
<div class="badge act" style="left:1770.600px;top:840.3px;width:94.2px"></div>
<svg style="left:1926.9px;top:854.9px" width="26.4" height="8" fill="#a3a3ab"><circle cx="4" cy="4" r="2.3"/><circle cx="13.2" cy="4" r="2.3"/><circle cx="22.4" cy="4" r="2.3"/></svg>
<svg style="left:551.700px;top:933.9px" width="57.400" height="57.400" viewBox="0 0 58 58"><defs><clipPath id="cpavKatie"><circle cx="29" cy="29" r="29"/></clipPath></defs><g clip-path="url(#cpavKatie)"><use href="#avKatie"/></g></svg>
<svg style="left:1403.7px;top:934.0px" width="57.200" height="57.200" viewBox="-28.600 -28.600 57.200 57.200"><circle r="28.600" fill="#5865f2"/><path transform="translate(-13.200,-10.400) scale(.2045)" fill="#fff" d="M107.700,8.070A105.150,105.150,0,0,0,81.470,0a72.060,72.060,0,0,0-3.360,6.830A97.680,97.680,0,0,0,49,6.830,72.370,72.370,0,0,0,45.640,0,105.890,105.890,0,0,0,19.390,8.090C2.790,32.650-1.710,56.600.540,80.210h0A105.730,105.730,0,0,0,32.710,96.360,77.700,77.700,0,0,0,39.600,85.250a68.420,68.420,0,0,1-10.850-5.180c.910-.660,1.800-1.340,2.660-2a75.570,75.570,0,0,0,64.320,0c.870.710,1.760,1.390,2.660,2a68.680,68.680,0,0,1-10.870,5.190,77,77,0,0,0,6.890,11.100A105.250,105.250,0,0,0,126.600,80.220h0C129.240,52.840,122.090,29.110,107.700,8.070ZM42.450,65.690C36.180,65.690,31,60,31,53s5-12.740,11.430-12.740S54,46,53.890,53,48.840,65.690,42.450,65.690Zm42.240,0C78.410,65.690,73.250,60,73.250,53s5-12.740,11.440-12.740S96.230,46,96.120,53,91.080,65.690,84.690,65.690Z"/></svg>
<div class="badge pau" style="left:1770.600px;top:943.9px;width:103.6px"></div>
<svg style="left:1926.9px;top:958.5px" width="26.4" height="8" fill="#a3a3ab"><circle cx="4" cy="4" r="2.3"/><circle cx="13.2" cy="4" r="2.3"/><circle cx="22.4" cy="4" r="2.3"/></svg>
<svg style="left:551.700px;top:1037.6px" width="57.400" height="57.400" viewBox="0 0 58 58"><defs><clipPath id="cpavTim"><circle cx="29" cy="29" r="29"/></clipPath></defs><g clip-path="url(#cpavTim)"><use href="#avTim"/></g></svg>
<svg style="left:1403.7px;top:1037.7px" width="57.200" height="57.200" viewBox="-28.600 -28.600 57.200 57.200"><circle r="28.600" fill="#ffd02f"/><path transform="translate(-11.400,-11.300) scale(.945)" fill="#14211d" d="M17.392 0H13.900L17 4.808 10.444 0H6.949l3.102 6.300L3.494 0H0l3.050 8.131L0 24h3.494L10.050 6.985 6.949 24h3.494L17 5.494 13.899 24h3.493L24 3.672 17.392 0z"/></svg>
<div class="badge act" style="left:1770.600px;top:1047.6px;width:94.2px"></div>
<svg style="left:1926.9px;top:1062.2px" width="26.4" height="8" fill="#a3a3ab"><circle cx="4" cy="4" r="2.3"/><circle cx="13.2" cy="4" r="2.3"/><circle cx="22.4" cy="4" r="2.3"/></svg>
<svg style="left:551.700px;top:1141.2px" width="57.400" height="57.400" viewBox="0 0 58 58"><defs><clipPath id="cpavPaul"><circle cx="29" cy="29" r="29"/></clipPath></defs><g clip-path="url(#cpavPaul)"><use href="#avPaul"/></g></svg>
<svg style="left:1403.7px;top:1141.4px" width="57.200" height="57.200" viewBox="-28.600 -28.600 57.200 57.200"><circle r="28.600" fill="#0061fe"/><path fill="#fff" d="M-6.700,-10.300 l6,4.100 l-6,4.100 l-6,-4.100z M6.250,-10.300 l6,4.100 l-6,4.100 l-6,-4.100z M-6.700,-2.200 l6,4.100 l-6,4.100 l-6,-4.100z M6.250,-2.200 l6,4.100 l-6,4.100 l-6,-4.100z M-.200,3.400 l6,4.050 l-6,4.050 l-6,-4.050z"/></svg>
<div class="badge act" style="left:1770.600px;top:1151.2px;width:94.2px"></div>
<svg style="left:1926.9px;top:1165.9px" width="26.4" height="8" fill="#a3a3ab"><circle cx="4" cy="4" r="2.3"/><circle cx="13.2" cy="4" r="2.3"/><circle cx="22.4" cy="4" r="2.3"/></svg>
<svg style="left:551.700px;top:1244.9px" width="57.400" height="57.400" viewBox="0 0 58 58"><defs><clipPath id="cpavLisa"><circle cx="29" cy="29" r="29"/></clipPath></defs><g clip-path="url(#cpavLisa)"><use href="#avLisa"/></g></svg>
<svg style="left:1403.7px;top:1245.0px" width="57.200" height="57.200" viewBox="-28.600 -28.600 57.200 57.200"><circle r="28.600" fill="#2bb673"/><path d="M8.100,-4.500 A9,9 0 1 0 7.800,5" fill="none" stroke="#fff" stroke-width="2.300" stroke-linecap="round"/><path fill="#fff" d="M2.700,1.900 H9.700 V10.100 H7.700 V4.800 L6.500,4.300 H3.600z"/></svg>
<div class="badge pau" style="left:1770.600px;top:1254.9px;width:103.6px"></div>
<svg style="left:1926.9px;top:1269.5px" width="26.4" height="8" fill="#a3a3ab"><circle cx="4" cy="4" r="2.3"/><circle cx="13.2" cy="4" r="2.3"/><circle cx="22.4" cy="4" r="2.3"/></svg>
<div class="t" style="left:551.2px;top:757.0px;font-size:19.8px;color:#9a9aa0;letter-spacing:1.24px;-webkit-text-stroke:0.3px #9a9aa0">Member</div>
<div class="t" style="left:1049.9px;top:757.0px;font-size:19.8px;color:#9a9aa0;letter-spacing:0.923px;-webkit-text-stroke:0.3px #9a9aa0">Title</div>
<div class="t" style="left:1402.6px;top:757.0px;font-size:19.8px;color:#9a9aa0;letter-spacing:0.983px;-webkit-text-stroke:0.3px #9a9aa0">Project</div>
<div class="t" style="left:1770.18px;top:757.0px;font-size:19.8px;color:#9a9aa0;letter-spacing:0.823px;-webkit-text-stroke:0.3px #9a9aa0">Status</div>
<div class="t" style="left:632.3px;top:837.0px;font-size:22.0px;color:#fff;letter-spacing:0.292px">Alex Schiller</div>
<div class="t" style="left:631.46px;top:865.0px;font-size:19.5px;color:#8b8b91;letter-spacing:0.478px">alexschiller@gmail.com</div>
<div class="t" style="left:1049.0px;top:850.0px;font-size:20.0px;color:#f2f2f2;letter-spacing:0.319px">Marketing Talent</div>
<div class="t" style="left:1482.0px;top:850.0px;font-size:20.0px;color:#f2f2f2;letter-spacing:0.942px">Intercom</div>
<div class="t" style="left:1788.76px;top:851.0px;font-size:19.8px;color:#2fc6a8;letter-spacing:0.967px;-webkit-text-stroke:0.3px #2fc6a8">Active</div>
<div class="t" style="left:630.54px;top:940.0px;font-size:22.0px;color:#fff;letter-spacing:0.796px">Katie Adams</div>
<div class="t" style="left:631.3px;top:969.0px;font-size:19.5px;color:#8b8b91;letter-spacing:0.663px">katieadams@gmail.com</div>
<div class="t" style="left:1049.0px;top:954.0px;font-size:20.0px;color:#f2f2f2;letter-spacing:0.277px">Product Manager</div>
<div class="t" style="left:1482.8px;top:954.0px;font-size:20.0px;color:#f2f2f2;letter-spacing:0.7px">Discord</div>
<div class="t" style="left:1787.7px;top:955.0px;font-size:19.8px;color:#f0953a;letter-spacing:0.3px;-webkit-text-stroke:0.3px #f0953a">Paused</div>
<div class="t" style="left:632.3px;top:1044.0px;font-size:22.0px;color:#fff;letter-spacing:0.618px">Tim Williams</div>
<div class="t" style="left:632.3px;top:1072.0px;font-size:19.5px;color:#8b8b91;letter-spacing:0.64px">timwilliams@gmail.com</div>
<div class="t" style="left:1049.02px;top:1057.0px;font-size:20.0px;color:#f2f2f2;letter-spacing:0.005px">Senior Engineer</div>
<div class="t" style="left:1482.8px;top:1057.0px;font-size:20.0px;color:#f2f2f2;letter-spacing:0.633px">Miro</div>
<div class="t" style="left:1788.76px;top:1058.0px;font-size:19.8px;color:#2fc6a8;letter-spacing:0.967px;-webkit-text-stroke:0.3px #2fc6a8">Active</div>
<div class="t" style="left:630.54px;top:1148.0px;font-size:22.0px;color:#fff;letter-spacing:0.562px">Paul Smith</div>
<div class="t" style="left:631.3px;top:1176.0px;font-size:19.5px;color:#8b8b91;letter-spacing:0.728px">paulsmith@gmail.com</div>
<div class="t" style="left:1049.02px;top:1161.0px;font-size:20.0px;color:#f2f2f2;letter-spacing:0.277px">Software Tester</div>
<div class="t" style="left:1482.8px;top:1161.0px;font-size:20.0px;color:#f2f2f2;letter-spacing:0.622px">Dropbox</div>
<div class="t" style="left:1788.76px;top:1162.0px;font-size:19.8px;color:#2fc6a8;letter-spacing:0.967px;-webkit-text-stroke:0.3px #2fc6a8">Active</div>
<div class="t" style="left:630.54px;top:1251.0px;font-size:22.0px;color:#fff;letter-spacing:0.642px">Lisa Jackson</div>
<div class="t" style="left:631.3px;top:1280.0px;font-size:19.5px;color:#8b8b91;letter-spacing:0.49px">lisajackson@gmail.com</div>
<div class="t" style="left:1049.02px;top:1265.0px;font-size:20.0px;color:#f2f2f2;letter-spacing:-0.169px">Sales Manager</div>
<div class="t" style="left:1482.8px;top:1265.0px;font-size:20.0px;color:#f2f2f2;letter-spacing:0.363px">Grammarly</div>
<div class="t" style="left:1787.7px;top:1266.0px;font-size:19.8px;color:#f0953a;letter-spacing:0.3px;-webkit-text-stroke:0.3px #f0953a">Paused</div>
</div>
</body>
</html>
